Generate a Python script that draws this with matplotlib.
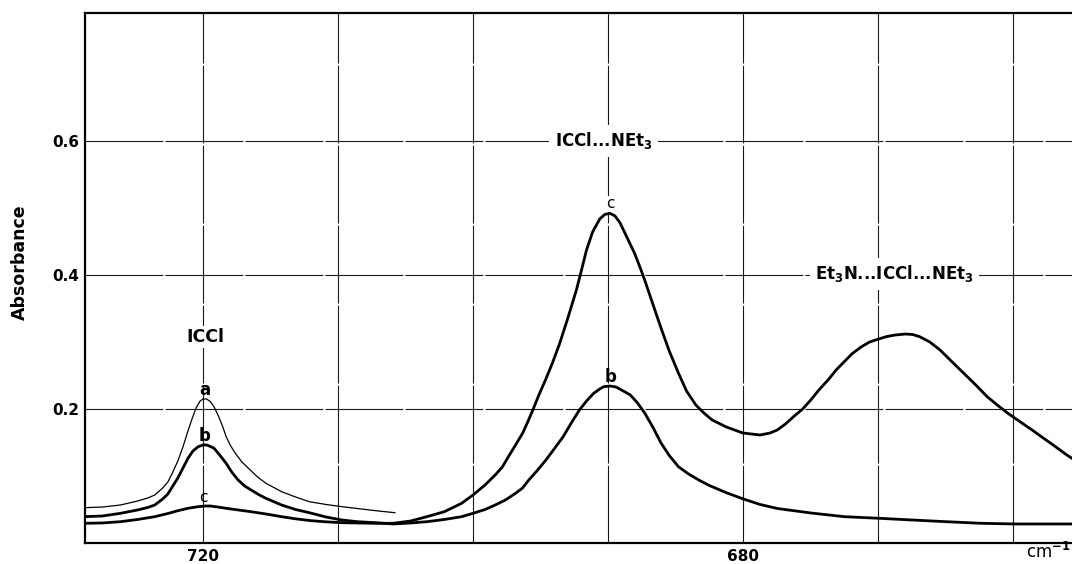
import matplotlib.pyplot as plt

# wavenumber (cm-1) and absorbance
wn_a = [728.8, 727.46, 726.12, 724.85, 724.10, 723.58, 722.99, 722.61, 722.24, 721.87,
        721.49, 721.12, 720.82, 720.52, 720.22, 720.00, 719.73, 719.45, 719.18, 718.84,
        718.56, 718.29, 717.95, 717.60, 717.12, 716.58, 715.96, 715.34, 714.18, 713.15,
        712.12, 710.89, 709.70, 707.20, 705.78]
abs_a = [0.0527, 0.0537, 0.0567, 0.0627, 0.0672, 0.0716, 0.0821, 0.0910, 0.1060, 0.1224,
         0.1433, 0.1672, 0.1851, 0.2015, 0.2119, 0.2149, 0.2149, 0.2109, 0.2030, 0.1885,
         0.1746, 0.1587, 0.1448, 0.1336, 0.1209, 0.1104, 0.0985, 0.0891, 0.0766, 0.0687,
         0.0616, 0.0575, 0.0542, 0.0482, 0.0452]

wn_b = [728.8, 727.46, 726.12, 724.85, 724.10, 723.58, 722.99, 722.61, 722.24, 721.87,
        721.49, 721.12, 720.75, 720.37, 720.00, 719.73, 719.45, 719.18, 718.77, 718.29,
        717.88, 717.40, 716.92, 716.44, 715.89, 715.34, 714.18, 713.15, 712.12, 710.89,
        709.70, 708.56, 707.20, 705.91, 704.62, 703.41, 702.12, 700.83, 700.00, 699.10,
        698.35, 697.59, 696.84, 696.32, 695.86, 695.26, 694.59, 693.98, 693.31, 692.71,
        692.11, 691.58, 691.05, 690.60, 690.30, 689.85, 689.39, 688.86, 688.33, 687.80,
        687.27, 686.67, 686.06, 685.45, 684.77, 684.02, 683.26, 682.50, 681.21, 680.00,
        678.72, 677.44, 674.96, 672.48, 669.92, 667.42, 664.92, 662.35, 659.85, 655.1]
abs_b = [0.0393, 0.0403, 0.0443, 0.0493, 0.0530, 0.0567, 0.0657, 0.0731, 0.0851, 0.0970,
         0.1119, 0.1264, 0.1373, 0.1437, 0.1463, 0.1463, 0.1440, 0.1413, 0.1313, 0.1190,
         0.1060, 0.0940, 0.0851, 0.0791, 0.0724, 0.0667, 0.0567, 0.0500, 0.0452, 0.0388,
         0.0343, 0.0318, 0.0303, 0.0284, 0.0299, 0.0318, 0.0351, 0.0393, 0.0443, 0.0500,
         0.0567, 0.0642, 0.0742, 0.0821, 0.0940, 0.1075, 0.1239, 0.1403, 0.1587, 0.1791,
         0.1985, 0.2119, 0.2234, 0.2299, 0.2333, 0.2343, 0.2328, 0.2269, 0.2209, 0.2090,
         0.1940, 0.1731, 0.1493, 0.1306, 0.1139, 0.1030, 0.0940, 0.0860, 0.0750, 0.0660,
         0.0575, 0.0515, 0.0448, 0.0393, 0.0369, 0.0343, 0.0318, 0.0294, 0.0284, 0.0284]

wn_c = [728.8, 727.46, 726.12, 724.85, 723.58, 722.61, 721.87, 721.12, 720.37, 719.86,
        719.45, 718.90, 718.29, 717.40, 716.44, 715.34, 714.18, 713.15, 711.99, 710.89,
        709.70, 707.20, 705.91, 704.62, 703.41, 702.12, 700.83, 700.00, 699.10, 698.35,
        697.82, 697.37, 696.84, 696.32, 695.94, 695.56, 695.11, 694.59, 694.14, 693.61,
        693.01, 692.33, 691.95, 691.58, 691.13, 690.60, 690.23, 689.85, 689.47, 689.09,
        688.56, 688.03, 687.65, 687.27, 686.82, 686.44, 686.06, 685.45, 684.77, 684.17,
        683.48, 682.88, 682.27, 681.21, 680.00, 678.72, 677.97, 677.44, 676.84, 676.24,
        675.56, 674.96, 674.36, 673.68, 673.08, 672.48, 671.88, 671.20, 670.60, 669.92,
        669.32, 668.71, 667.95, 667.42, 666.89, 666.14, 665.38, 664.55, 663.64, 662.73,
        661.89, 661.14, 660.38, 659.47, 658.56, 657.73, 656.82, 655.98, 655.1]
abs_c = [0.0294, 0.0299, 0.0318, 0.0351, 0.0393, 0.0440, 0.0482, 0.0518, 0.0542, 0.0552,
         0.0552, 0.0537, 0.0518, 0.0493, 0.0467, 0.0433, 0.0393, 0.0361, 0.0333, 0.0316,
         0.0303, 0.0294, 0.0294, 0.0328, 0.0393, 0.0467, 0.0593, 0.0716, 0.0866, 0.1015,
         0.1134, 0.1288, 0.1463, 0.1637, 0.1806, 0.1985, 0.2209, 0.2450, 0.2670, 0.2955,
         0.3328, 0.3776, 0.4075, 0.4373, 0.4642, 0.4836, 0.4903, 0.4921, 0.4881, 0.4776,
         0.4552, 0.4328, 0.4134, 0.3925, 0.3657, 0.3433, 0.3209, 0.2866, 0.2537, 0.2269,
         0.2060, 0.1940, 0.1836, 0.1731, 0.1642, 0.1612, 0.1642, 0.1687, 0.1776, 0.1885,
         0.2000, 0.2134, 0.2284, 0.2433, 0.2582, 0.2706, 0.2828, 0.2930, 0.3000, 0.3045,
         0.3082, 0.3104, 0.3119, 0.3112, 0.3079, 0.3000, 0.2881, 0.2716, 0.2537, 0.2358,
         0.2184, 0.2060, 0.1940, 0.1813, 0.1687, 0.1567, 0.1437, 0.1313, 0.1199]

x_grid = [720, 710, 700, 690, 680, 670, 660]
x_labels = ['720', '', '', '', '680', '', '']
y_grid = [0.2, 0.4, 0.6]
y_labels = ['0.2', '0.4', '0.6']

fig = plt.figure(figsize=(10.72, 5.64), dpi=100)
ax = fig.add_axes([85 / 1072, 21 / 564, 987 / 1072, 530 / 564])

ax.plot(wn_a, abs_a, color='black', lw=0.9, zorder=3)
ax.plot(wn_b, abs_b, color='black', lw=2.0, zorder=3)
ax.plot(wn_c, abs_c, color='black', lw=2.0, zorder=3)

ax.set_xlim(728.75, 655.6)
ax.set_ylim(0, 0.791)
ax.set_xticks(x_grid)
ax.set_xticklabels(x_labels, fontweight='bold', fontsize=11)
ax.set_yticks(y_grid)
ax.set_yticklabels(y_labels, fontweight='bold', fontsize=11)
ax.tick_params(length=0, pad=4)
ax.grid(True, color='0.1', lw=0.8, ls=(0, (70, 2)))
ax.set_axisbelow(True)

for s in ['left', 'bottom', 'top']:
    ax.spines[s].set_linewidth(1.6)
ax.spines['right'].set_visible(False)

wb = dict(facecolor='white', edgecolor='none', pad=1.5)
ax.text(719.8, 0.307, 'ICCl', fontsize=12.5, fontweight='bold', ha='center', va='center', bbox=wb)
ax.text(690.3, 0.6, 'ICCl...NEt$_\\mathbf{3}$', fontsize=12, fontweight='bold',
        ha='center', va='center', bbox=dict(facecolor='white', edgecolor='none', pad=4))
ax.text(668.75, 0.402, 'Et$_\\mathbf{3}$N...ICCl...NEt$_\\mathbf{3}$', fontsize=12, fontweight='bold',
        ha='center', va='center', bbox=dict(facecolor='white', edgecolor='none', pad=4))

ax.text(719.9, 0.229, 'a', fontsize=12, fontweight='bold', ha='center', va='center')
ax.text(719.9, 0.160, 'b', fontsize=12, fontweight='bold', ha='center', va='center')
ax.text(720.0, 0.068, 'c', fontsize=11, ha='center', va='center')
ax.text(689.8, 0.506, 'c', fontsize=11, ha='center', va='center',
        bbox=dict(facecolor='white', edgecolor='none', pad=0.5))
ax.text(689.8, 0.248, 'b', fontsize=12, fontweight='bold', ha='center', va='center')

fig.text(20 / 1072, 1 - 262 / 564, 'Absorbance', rotation=90, fontsize=12.5, fontweight='bold',
         ha='center', va='center')
fig.text(1071 / 1072, 2 / 564, 'cm$^{\\mathbf{-1}}$', fontsize=12, ha='right', va='bottom')

fig.savefig('out.png', dpi=100)
